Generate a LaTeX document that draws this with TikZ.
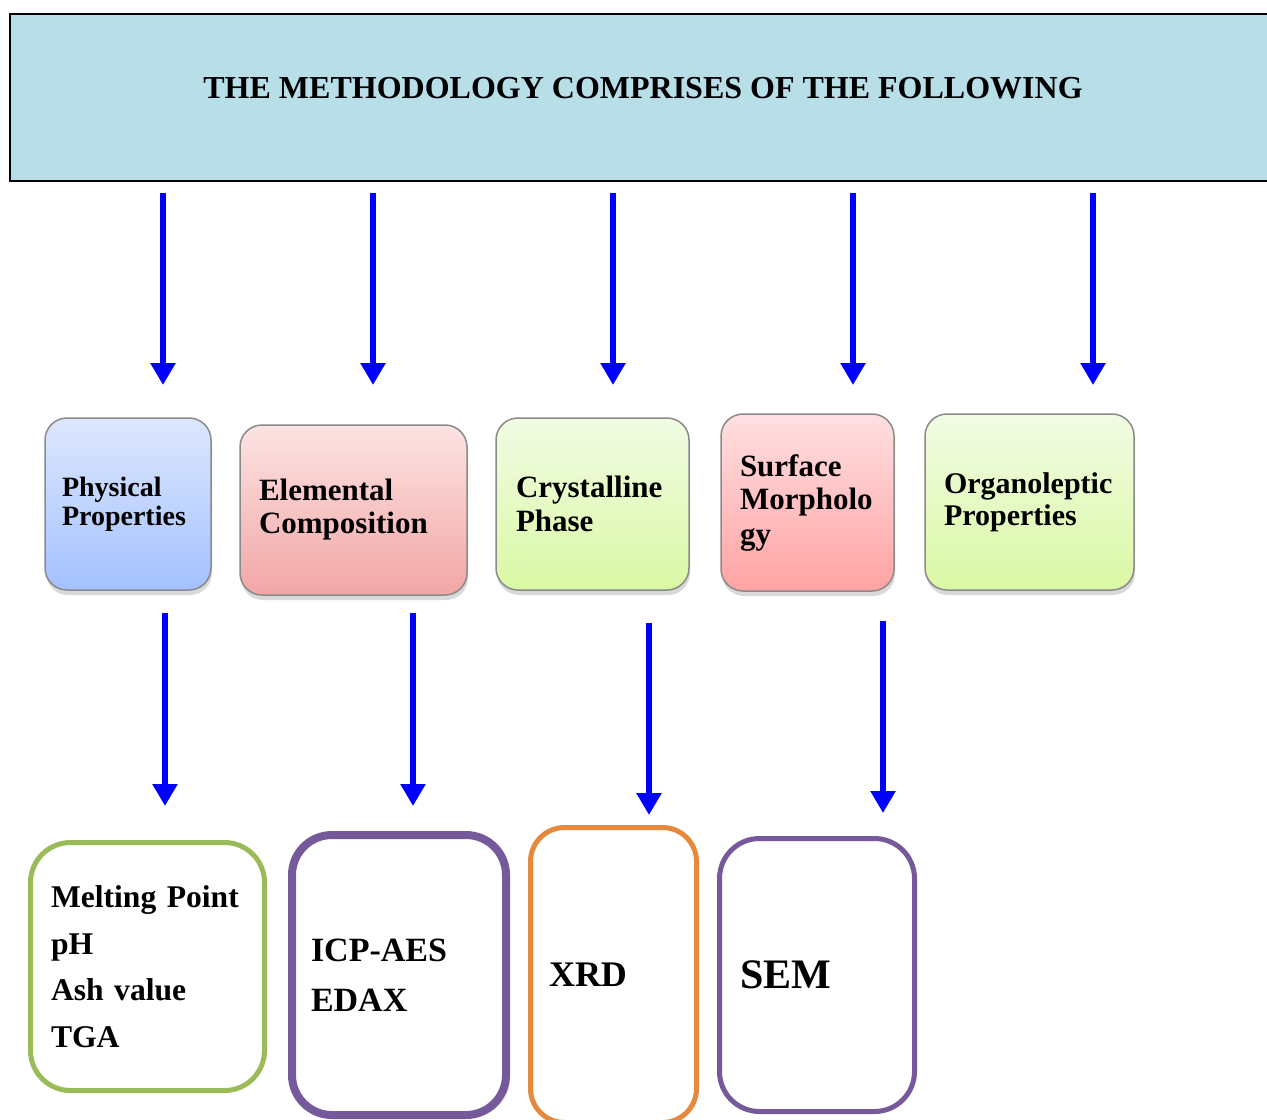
\documentclass[tikz,border=0pt]{standalone}
\usepackage{fontspec}
\setmainfont{Liberation Serif}
\usetikzlibrary{arrows.meta,shadows}
\definecolor{titlefill}{HTML}{B8DEE8}
\definecolor{blueTop}{HTML}{DDE7FE}
\definecolor{blueBot}{HTML}{A3C1FE}
\definecolor{redTop}{HTML}{FDE3E3}
\definecolor{redBot}{HTML}{F2A6A6}
\definecolor{grnTop}{HTML}{F1FCE4}
\definecolor{grnBot}{HTML}{DAF8A4}
\definecolor{pinkTop}{HTML}{FFE0E2}
\definecolor{pinkBot}{HTML}{FFA2A2}
\definecolor{boxline}{HTML}{8A8A8A}
\definecolor{olgreen}{HTML}{9BBB59}
\definecolor{olpurple}{HTML}{76599A}
\definecolor{olorange}{HTML}{E58A3C}
\definecolor{arrblue}{HTML}{0000FF}
\begin{document}
\begin{tikzpicture}[x=0.5pt,y=-0.5pt,
  arr/.style={draw=arrblue,line width=3pt,-{Triangle[width=12pt,length=11pt]}},
  midbox/.style={draw=boxline,line width=0.75pt,rounded corners=11pt,
    align=left,font=\bfseries,inner ysep=0pt,
    drop shadow={opacity=0.3,shadow xshift=0.5pt,shadow yshift=-2.5pt}},
  lowbox/.style={draw,line width=2.5pt,rounded corners=20pt,fill=white,
    align=left,font=\bfseries,inner ysep=0pt},
]
\useasboundingbox (0,0) rectangle (1267,1119);
\clip (0,0) rectangle (1267,1119);

% title
\node[draw=black,line width=1pt,fill=titlefill,minimum width=645pt,minimum height=83.5pt,inner sep=0pt] (title) at (655,97.5) {};
\node[font=\bfseries\fontsize{16}{19}\selectfont,inner sep=0pt] (titletext) at (643,88) {THE METHODOLOGY COMPRISES OF THE FOLLOWING};

% middle boxes
\node[midbox,top color=blueTop,bottom color=blueBot,minimum width=83pt,minimum height=86pt,
  text width=66pt,inner xsep=8.5pt,font=\bfseries\fontsize{14}{14.5}\selectfont] (phys) at (128,504) {Physical\\Properties};
\node[midbox,top color=redTop,bottom color=redBot,minimum width=113.5pt,minimum height=85pt,
  text width=94.5pt,inner xsep=9.5pt,font=\bfseries\fontsize{15.5}{16.5}\selectfont] (elem) at (353.5,510) {Elemental\\Composition};
\node[midbox,top color=grnTop,bottom color=grnBot,minimum width=96.5pt,minimum height=86pt,
  text width=76.5pt,inner xsep=10pt,font=\bfseries\fontsize{15.5}{17}\selectfont] (cryst) at (592.5,504) {Crystalline\\Phase};
\node[midbox,top color=pinkTop,bottom color=pinkBot,minimum width=86.5pt,minimum height=88.5pt,
  text width=67.5pt,inner xsep=9.5pt,font=\bfseries\fontsize{15.5}{17}\selectfont] (surf) at (807.5,502.5) {Surface\\Morpholo\\gy};
\node[midbox,top color=grnTop,bottom color=grnBot,minimum width=104.5pt,minimum height=88pt,
  text width=85.5pt,inner xsep=9.5pt,font=\bfseries\fontsize{15}{16}\selectfont] (organo) at (1029.5,502) {Organoleptic\\Properties};

% bottom boxes
\node[lowbox,draw=olgreen,minimum width=117pt,minimum height=124pt,
  text width=96.5pt,inner xsep=10.25pt,font=\bfseries\fontsize{15.8}{23.25}\selectfont] (phystech) at (147.5,966.5) {Melting Point\\pH\\Ash value\\TGA};
\node[lowbox,draw=olpurple,line width=4pt,minimum width=107pt,minimum height=140pt,
  text width=88pt,inner xsep=9.5pt,font=\bfseries\fontsize{17}{25}\selectfont,
  drop shadow={opacity=0.25,shadow xshift=2pt,shadow yshift=-1.5pt}] (elemtech) at (399,975) {ICP-AES\\EDAX};
\node[lowbox,draw=olorange,rounded corners=17pt,minimum width=83pt,minimum height=147.5pt,
  text width=64.5pt,inner xsep=9.25pt,font=\bfseries\fontsize{18}{20}\selectfont] (crysttech) at (613.5,975) {XRD};
\node[lowbox,draw=olpurple,minimum width=97.5pt,minimum height=136.5pt,
  text width=77pt,inner xsep=10.25pt,font=\bfseries\fontsize{21}{24}\selectfont] (surftech) at (817,975) {SEM};

% arrow end points
\coordinate (a1s) at (163,193); \coordinate (a1e) at (163,385);
\coordinate (a2s) at (373,193); \coordinate (a2e) at (373,385);
\coordinate (a3s) at (613,193); \coordinate (a3e) at (613,385);
\coordinate (a4s) at (853,193); \coordinate (a4e) at (853,385);
\coordinate (a5s) at (1093,193); \coordinate (a5e) at (1093,385);
\coordinate (b1s) at (165,613); \coordinate (b1e) at (165,806);
\coordinate (b2s) at (413,613); \coordinate (b2e) at (413,806);
\coordinate (b3s) at (649,623); \coordinate (b3e) at (649,815);
\coordinate (b4s) at (883,621); \coordinate (b4e) at (883,813);

\draw[arr] (a1s) -- (a1e);
\draw[arr] (a2s) -- (a2e);
\draw[arr] (a3s) -- (a3e);
\draw[arr] (a4s) -- (a4e);
\draw[arr] (a5s) -- (a5e);
\draw[arr] (b1s) -- (b1e);
\draw[arr] (b2s) -- (b2e);
\draw[arr] (b3s) -- (b3e);
\draw[arr] (b4s) -- (b4e);
\end{tikzpicture}
\end{document}
